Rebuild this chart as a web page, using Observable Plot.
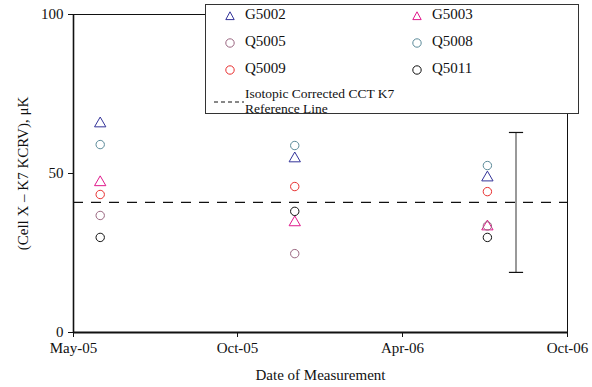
<!DOCTYPE html>
<html>
<head>
<meta charset="utf-8">
<script src="https://cdn.jsdelivr.net/npm/d3@7"></script>
<script src="https://cdn.jsdelivr.net/npm/@observablehq/plot@0.6"></script>
<style>
  html, body { margin: 0; padding: 0; background: #fff; }
  #wrap { position: relative; width: 592px; height: 387px; font-family: "Liberation Serif", "Times New Roman", "DejaVu Serif", serif; }
  #wrap svg.plot { position: absolute; left: 0; top: 0; }
  #wrap svg.plot text { font-family: "Liberation Serif", "Times New Roman", "DejaVu Serif", serif; }
  #legend { position: absolute; left: 205px; top: 4px; width: 374px; height: 110px; border: 1px solid #333; background: #fff; box-sizing: border-box; font-size: 14px; color: #111; }
  .li { position: absolute; white-space: nowrap; line-height: 14px; }
  .li2 { position: absolute; white-space: nowrap; line-height: 15px; }
  .sym { position: absolute; }
</style>
</head>
<body>
<div id="wrap"></div>
<script>
// ---- data ----
const series = ["G5002", "G5003", "Q5005", "Q5008", "Q5009", "Q5011"];
const symbols = ["triangle", "triangle", "circle", "circle", "circle", "circle"];
const colors = ["#333399", "#e0198c", "#9a6680", "#5b8a99", "#e83030", "#111111"];
const measureDates = ["2005-05-29", "2005-12-19", "2006-07-09"];
const G5002 = [65.7, 54.7, 48.7];
const G5003 = [47.2, 34.6, 33.3];
const Q5005 = [36.8, 24.8, 33.5];
const Q5008 = [59.1, 58.8, 52.5];
const Q5009 = [43.4, 45.9, 44.3];
const Q5011 = [29.9, 38.1, 29.9];
const referenceLine = 40.9;
const errorBarDate = "2006-08-08";
const errorBarLow = 18.9;
const errorBarHigh = 62.9;
const xDomain = ["2005-05-01", "2006-10-01"];
const xTickDates = ["2005-05-01", "2005-10-20", "2006-04-11", "2006-10-01"];
const xTickLabels = ["May-05", "Oct-05", "Apr-06", "Oct-06"];
const yTicks = [0, 50, 100];
const legendLineLabel = ["Isotopic Corrected CCT K7", "Reference Line"];

const seriesValues = [G5002, G5003, Q5005, Q5008, Q5009, Q5011];
const D = s => new Date(s + "T00:00:00Z");
const points = [];
series.forEach((name, si) => {
  seriesValues[si].forEach((v, di) => {
    points.push({ series: name, date: D(measureDates[di]), value: v, symbol: symbols[si], color: colors[si] });
  });
});
const tickDates = xTickDates.map(D);

const capSymbol = {
  draw(context, size) {
    const w = Math.sqrt(size);
    context.moveTo(-w, 0);
    context.lineTo(w, 0);
  }
};

const chart = Plot.plot({
  width: 592,
  height: 387,
  marginLeft: 73,
  marginRight: 25,
  marginTop: 14,
  marginBottom: 55,
  style: { fontFamily: "'Liberation Serif', 'Times New Roman', 'DejaVu Serif', serif", fontSize: "14px", color: "#111", background: "transparent" },
  x: { type: "utc", domain: xDomain.map(D) },
  y: { domain: [0, 100] },
  marks: [
    Plot.frame({ stroke: "#111", strokeWidth: 1 }),
    Plot.ruleY([referenceLine], { stroke: "#111", strokeWidth: 1.2, strokeDasharray: "10,8" }),
    Plot.ruleX([D(errorBarDate)], { y1: errorBarLow, y2: errorBarHigh, stroke: "#808080", strokeWidth: 1.6 }),
    Plot.dot([errorBarLow, errorBarHigh], { x: () => D(errorBarDate), y: d => d, symbol: capSymbol, r: 4, stroke: "#111", strokeWidth: 1.2, fill: "none" }),
    Plot.dot(points, { x: "date", y: "value", symbol: "symbol", stroke: "color", r: 4.2, strokeWidth: 1, fill: "none" }),
    Plot.ruleX([D(xDomain[0])], { stroke: "#111", strokeWidth: 1.6 }),
    Plot.ruleY([0], { stroke: "#111", strokeWidth: 2.2 }),
    Plot.axisY({ ticks: yTicks, tickSize: 5, tickPadding: 5, label: "(Cell X – K7 KCRV), μK", labelAnchor: "center", labelArrow: "none", labelOffset: 56, fontSize: 15 }),
    Plot.axisX({ ticks: tickDates, tickFormat: d => xTickLabels[tickDates.findIndex(t => +t === +d)], tickSize: 5, tickPadding: 5, label: "Date of Measurement", labelAnchor: "center", labelArrow: "none", labelOffset: 47, fontSize: 15 })
  ]
});
chart.classList.add("plot");
const wrap = document.getElementById("wrap");
wrap.appendChild(chart);

// ---- legend (HTML overlay) ----
const legend = document.createElement("div");
legend.id = "legend";
const symSvg = (sym, color) => {
  const s = sym === "triangle"
    ? `<path d="M5,0.8 L9.2,8.6 L0.8,8.6 Z" fill="none" stroke="${color}" stroke-width="1"/>`
    : `<circle cx="5" cy="5" r="4.2" fill="none" stroke="${color}" stroke-width="1"/>`;
  return `<svg width="10" height="10" viewBox="0 0 10 10">${s}</svg>`;
};
let html = "";
series.forEach((name, i) => {
  const col = i % 2, row = Math.floor(i / 2);
  const sx = col === 0 ? 19 : 206;
  const tx = col === 0 ? 39 : 226;
  const cy = 9 + row * 27;
  html += `<div class="sym" style="left:${sx}px;top:${cy - 5}px">${symSvg(symbols[i], colors[i])}</div>`;
  html += `<div class="li" style="left:${tx}px;top:${cy - 7}px;font-size:15px">${name}</div>`;
});
html += `<div class="sym" style="left:8px;top:87px"><svg width="30" height="4"><line x1="0" y1="2" x2="30" y2="2" stroke="#111" stroke-width="1" stroke-dasharray="4,3"/></svg></div>`;
html += `<div class="li2" style="left:39px;top:81px;font-size:13.5px">${legendLineLabel[0]}<br>${legendLineLabel[1]}</div>`;
legend.innerHTML = html;
wrap.appendChild(legend);
</script>
</body>
</html>
